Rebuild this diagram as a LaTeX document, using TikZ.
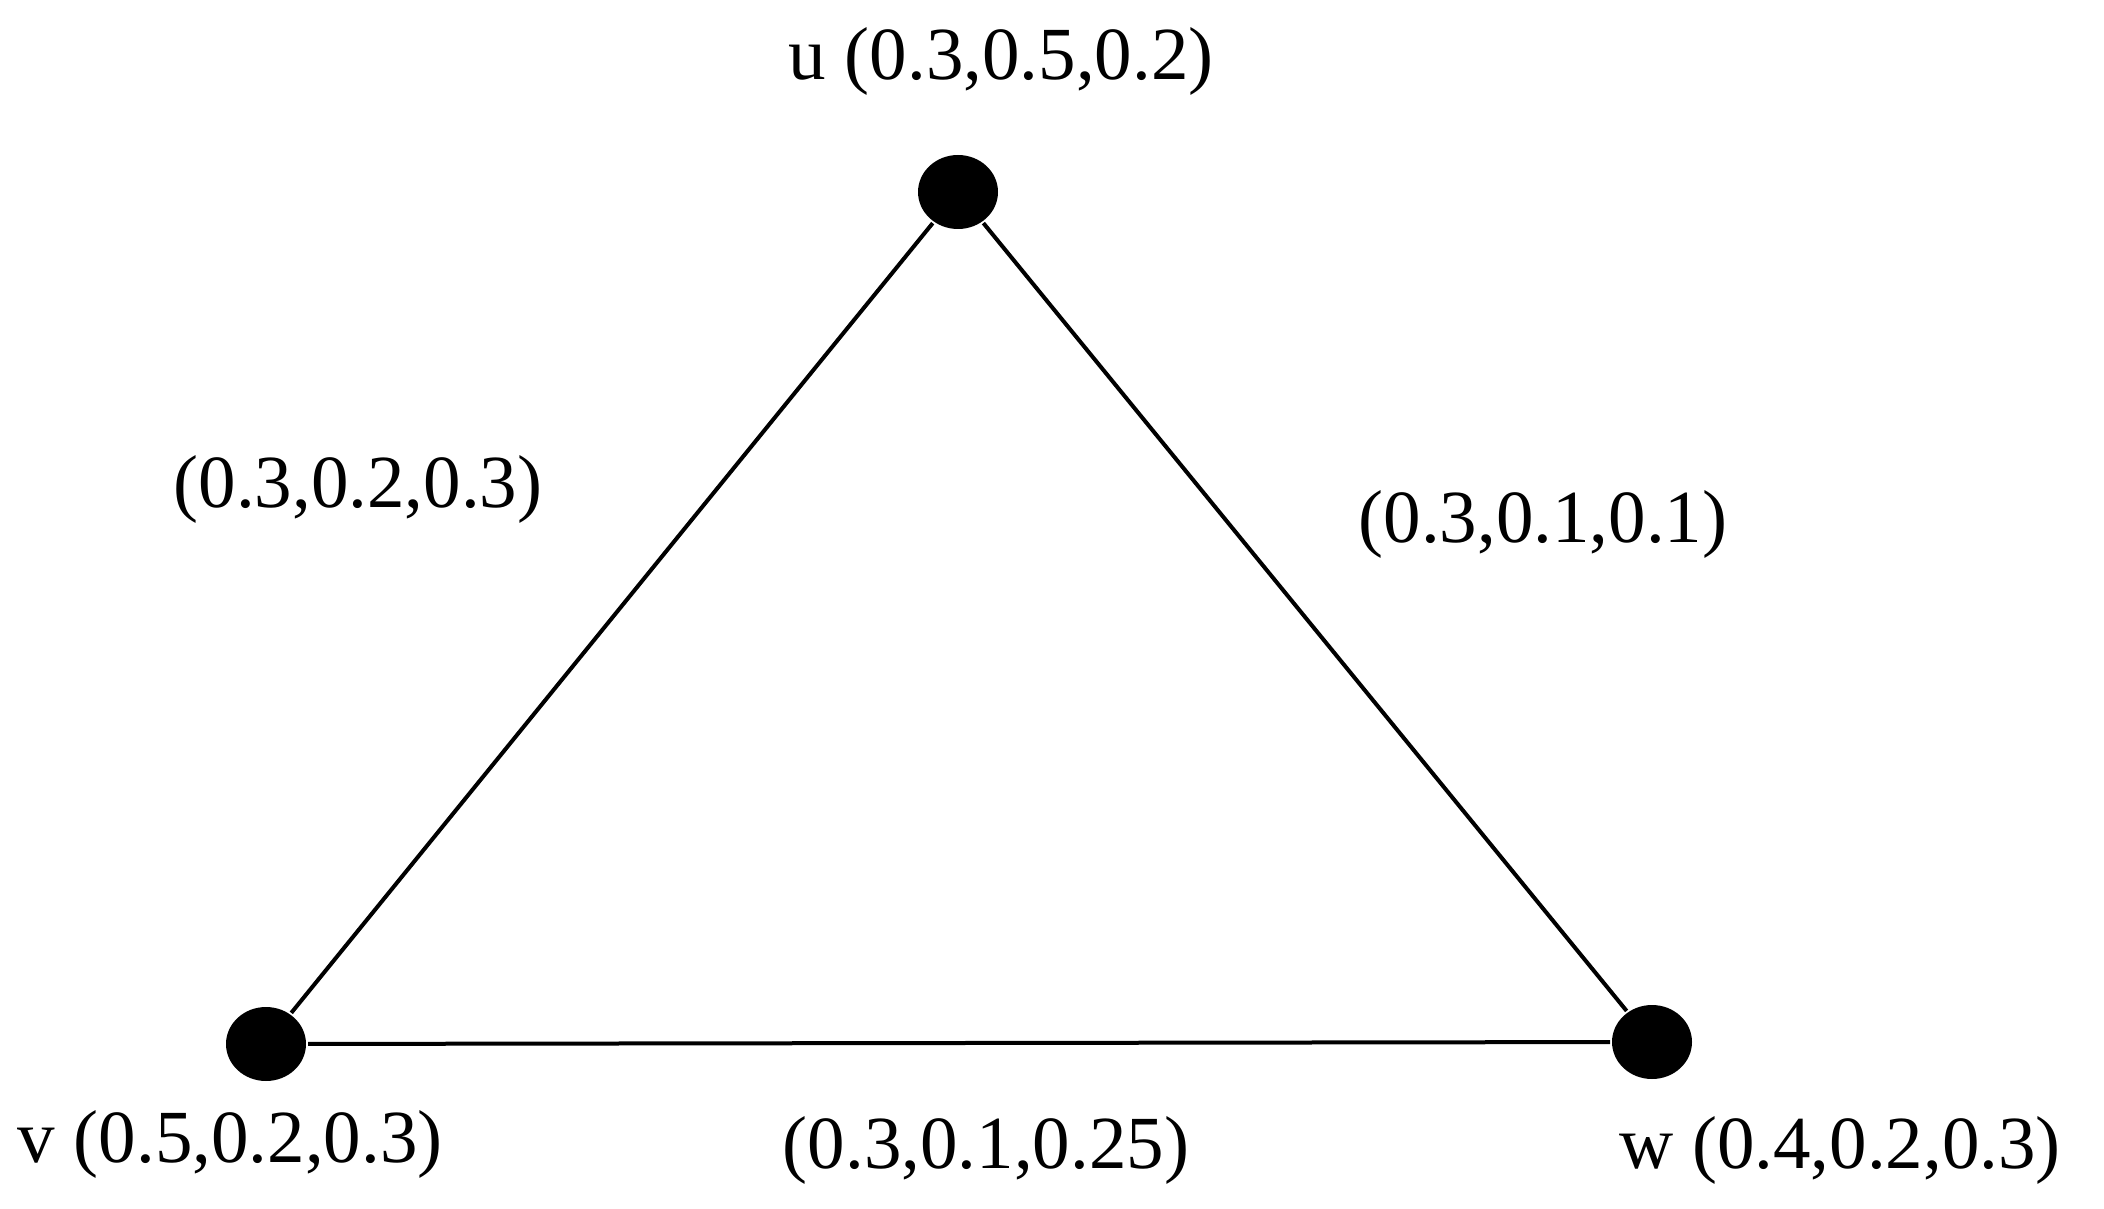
\documentclass[tikz,border=0pt]{standalone}
\usepackage{fontspec}
\setmainfont{Liberation Serif}
\usetikzlibrary{shapes.geometric}

\begin{document}
\begin{tikzpicture}[x=0.5pt, y=-0.5pt, line width=2pt,
  dot/.style={ellipse, fill=black, inner sep=0pt, minimum width=40pt, minimum height=37pt},
  lbl/.style={anchor=base, inner sep=0pt, font=\fontsize{37.5}{45}\selectfont}]
  \useasboundingbox (0, 0) rectangle (2104, 1209);

  \node[dot] (u) at (958, 192) {};
  \node[dot] (v) at (266, 1044) {};
  \node[dot] (w) at (1652, 1042) {};

  \draw (u) -- (v);
  \draw (v) -- (w);
  \draw (w) -- (u);

  \node[lbl] (ulabel) at (1001, 80) {u (0.3,0.5,0.2)};
  \node[lbl] (vlabel) at (230, 1162) {v (0.5,0.2,0.3)};
  \node[lbl] (wlabel) at (1840, 1168) {w (0.4,0.2,0.3)};

  \node[lbl] (uvlabel) at (358, 507) {(0.3,0.2,0.3)};
  \node[lbl] (uwlabel) at (1543, 542) {(0.3,0.1,0.1)};
  \node[lbl] (vwlabel) at (986, 1168) {(0.3,0.1,0.25)};
\end{tikzpicture}
\end{document}
